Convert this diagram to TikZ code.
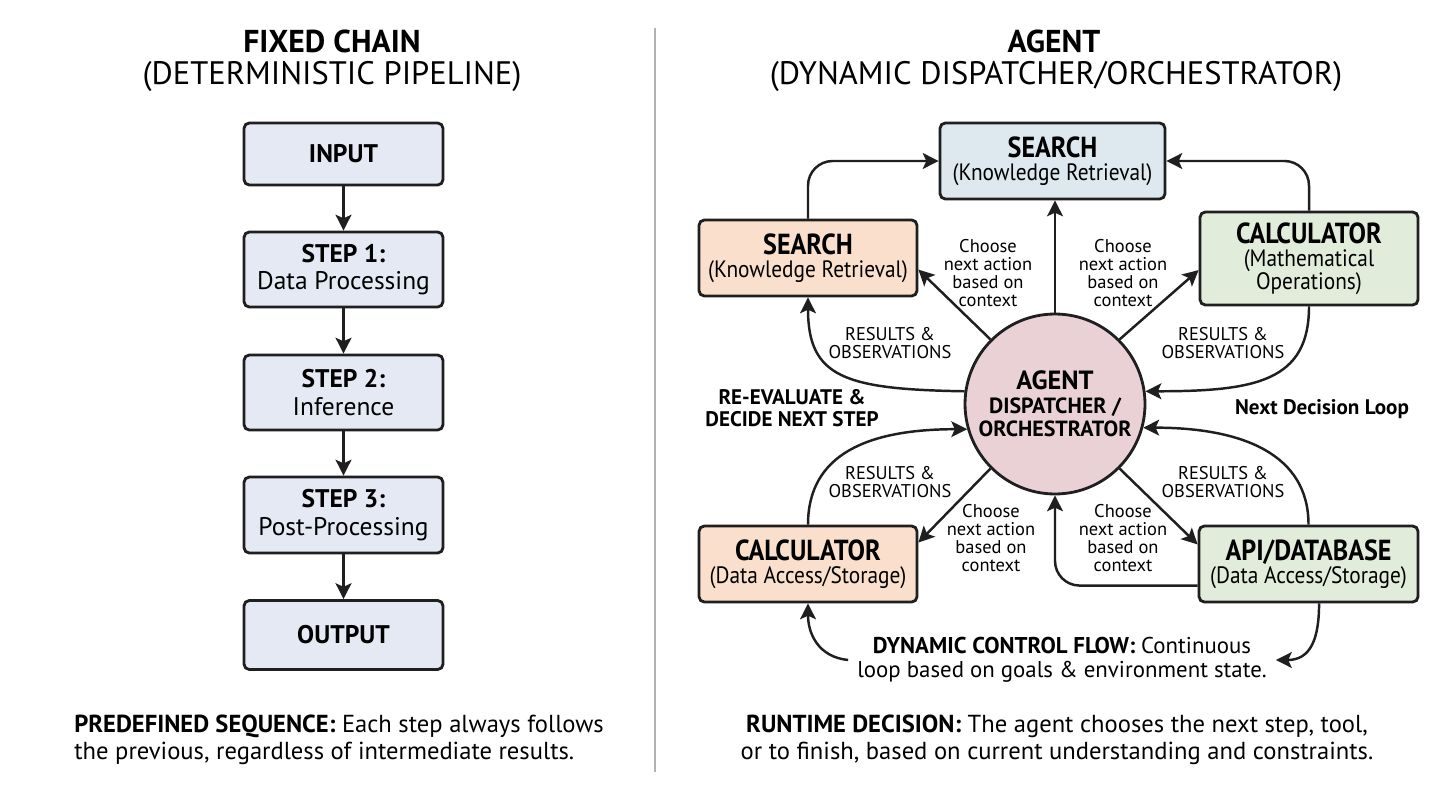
\documentclass[tikz,border=0pt]{standalone}
\usepackage{fontspec}
\setmainfont{PT Sans}
\newfontfamily\narrowfont[FakeStretch=0.9]{PT Sans}
\usepackage{xcolor}
\usetikzlibrary{arrows.meta, positioning}
\definecolor{chainfill}{HTML}{E4E9F3}
\definecolor{searchfill}{HTML}{DDE9EE}
\definecolor{orangefill}{HTML}{F9DFCC}
\definecolor{greenfill}{HTML}{E2ECDA}
\definecolor{agentfill}{HTML}{E9D1D6}
\definecolor{edgecol}{HTML}{1F1F1F}
\newcommand{\toolhead}[1]{{\fontsize{16.5}{13}\selectfont\bfseries #1}}

\begin{document}
\begin{tikzpicture}[
    x=0.02cm, y=-0.02cm,
    every node/.style={inner sep=0pt, text=black},
    chainbox/.style={draw=edgecol, line width=1.6pt, rounded corners=3pt, fill=chainfill, minimum width=3.98cm, align=center, font=\fontsize{14.5}{15.5}\selectfont},
    toolbox/.style={draw=edgecol, line width=1.6pt, rounded corners=3pt, minimum width=4.36cm, minimum height=1.52cm, align=center, font=\narrowfont\fontsize{13.5}{13}\selectfont},
    choicelbl/.style={align=center, font=\fontsize{10.5}{10.2}\selectfont},
    reslbl/.style={align=center, font=\fontsize{10.5}{10.2}\selectfont},
    flowarr/.style={draw=edgecol, line width=1.4pt, -{Stealth[length=9pt, width=9pt, inset=2pt]}},
    titlefont/.style={font=\fontsize{18}{20}\selectfont\bfseries},
    subfont/.style={font=\fontsize{18.5}{21}\selectfont}
]
\fill[white] (0,0) rectangle (1456,794);
\useasboundingbox (0,0) rectangle (1456,794);
\draw[gray!60, line width=0.6pt] (655,28) -- (655,772);

\node[titlefont] (ltitle) at (332,41) {FIXED CHAIN};
\node[subfont] (lsub) at (332,76.5) {(DETERMINISTIC PIPELINE)};
\node[titlefont] (rtitle) at (1054,41) {AGENT};
\node[subfont] (rsub) at (1056,76.5) {(DYNAMIC DISPATCHER/ORCHESTRATOR)};

\node[chainbox, minimum height=1.24cm] (input) at (343.5,154) {\textbf{INPUT}};
\node[chainbox, minimum height=1.5cm] (step1) at (343.5,269.5) {\textbf{STEP 1:}\\Data Processing};
\node[chainbox, minimum height=1.5cm] (step2) at (343.5,392.5) {\textbf{STEP 2:}\\Inference};
\node[chainbox, minimum height=1.52cm] (step3) at (343.5,515) {\textbf{STEP 3:}\\Post-Processing};
\node[chainbox, minimum height=1.38cm] (output) at (343.5,635) {\textbf{OUTPUT}};
\draw[flowarr] (input) -- (step1);
\draw[flowarr] (step1) -- (step2);
\draw[flowarr] (step2) -- (step3);
\draw[flowarr] (step3) -- (output);

\node[anchor=west, align=left, font=\fontsize{14}{15.3}\selectfont] (prednote) at (74,740)
  {\textbf{PREDEFINED SEQUENCE:} Each step always follows\\the previous, regardless of intermediate results.};

\node[toolbox, fill=searchfill, minimum width=4.5cm] (srchT) at (1052.5,161) {\toolhead{SEARCH}\\(Knowledge Retrieval)};
\node[toolbox, fill=orangefill] (srchL) at (808,258) {\toolhead{SEARCH}\\(Knowledge Retrieval)};
\node[toolbox, fill=greenfill, minimum height=1.86cm] (calc) at (1309,258.5) {\toolhead{CALCULATOR}\\(Mathematical\\Operations)};
\node[toolbox, fill=orangefill] (calcB) at (808,564) {\toolhead{CALCULATOR}\\(Data Access/Storage)};
\node[toolbox, fill=greenfill, minimum width=4.38cm] (api) at (1308.5,564) {\toolhead{API/DATABASE}\\(Data Access/Storage)};

\node[circle, draw=edgecol, line width=1.6pt, fill=agentfill, minimum size=3.6cm, align=center,
  font=\fontsize{12.5}{13.3}\selectfont\bfseries] (agent) at (1055,404)
  {{\fontsize{15}{13.3}\selectfont AGENT}\\DISPATCHER /\\ORCHESTRATOR};

\node[choicelbl] (ch1) at (988,273) {Choose\\next action\\based on\\context};
\node[choicelbl] (ch2) at (1123,273) {Choose\\next action\\based on\\context};
\node[choicelbl] (ch3) at (991,538) {Choose\\next action\\based on\\context};
\node[choicelbl] (ch4) at (1123,538) {Choose\\next action\\based on\\context};
\node[reslbl] (res1) at (890,343) {RESULTS \&\\OBSERVATIONS};
\node[reslbl] (res2) at (1223,343) {RESULTS \&\\OBSERVATIONS};
\node[reslbl] (res3) at (890,482) {RESULTS \&\\OBSERVATIONS};
\node[reslbl] (res4) at (1223,482) {RESULTS \&\\OBSERVATIONS};
\node[align=center, font=\fontsize{12}{12.5}\selectfont\bfseries] (reeval) at (792,408) {RE-EVALUATE \&\\DECIDE NEXT STEP};
\node[font=\fontsize{12}{13}\selectfont\bfseries] (nextloop) at (1322,409) {Next Decision Loop};
\node[align=center, inner sep=5pt, font=\fontsize{13}{13.6}\selectfont] (flow) at (1062,660)
  {\textbf{DYNAMIC CONTROL FLOW:} Continuous\\loop based on goals \& environment state.};

\draw[flowarr] (agent.north) -- (agent.north |- srchT.south);
\draw[flowarr] (agent.135) -- (srchL.-6);
\draw[flowarr] (agent.45) -- (calc.-174);
\draw[flowarr] (agent.225) -- (calcB.11);
\draw[flowarr] (agent.-45) -- (api.170);
\draw[flowarr, rounded corners=14pt] (srchL.north) |- (srchT.west);
\draw[flowarr, rounded corners=14pt] (calc.north) |- (srchT.east);
\draw[flowarr] (agent.172) .. controls +(-120,-2) and +(0,80) .. (srchL.south);
\draw[flowarr] (calc.south) .. controls +(0,75) and +(110,0) .. (agent.8);
\draw[flowarr] (calcB.north) .. controls +(0,-70) and +(-100,0) .. (agent.196);
\draw[flowarr] (api.north) .. controls +(0,-70) and +(100,0) .. (agent.-15);
\draw[flowarr, rounded corners=14pt] (api.191) -| (agent.south);
\draw[flowarr] (flow.west) .. controls +(-30,-3) and +(0,30) .. (calcB.south);
\draw[flowarr] (api.-75) .. controls +(0,35) and +(35,0) .. (flow.east);

\node[align=center, font=\fontsize{14}{15.3}\selectfont] (runnote) at (1057,740)
  {\textbf{RUNTIME DECISION:} The agent chooses the next step, tool,\\or to finish, based on current understanding and constraints.};
\end{tikzpicture}
\end{document}
